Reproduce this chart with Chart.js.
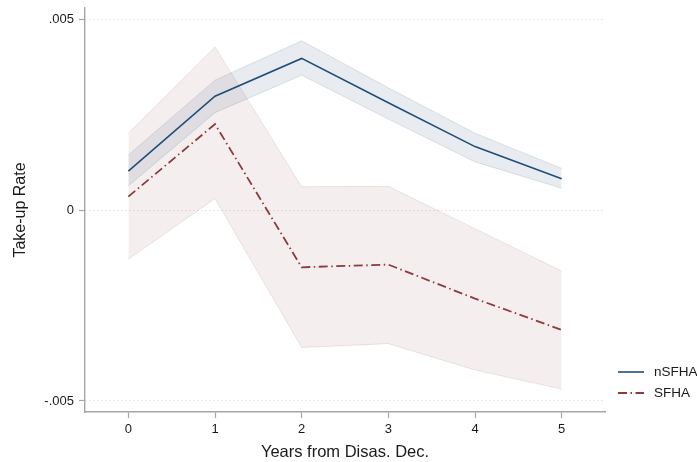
<!DOCTYPE html>
<html>
<head>
<meta charset="utf-8">
<script src="https://cdn.jsdelivr.net/npm/chart.js@4/dist/chart.umd.min.js"></script>
<style>
html,body{margin:0;padding:0;background:#fff;}
#wrap{width:697px;height:462px;}
</style>
</head>
<body>
<div id="wrap"><canvas id="c" width="697" height="462"></canvas></div>
<script>
const years = [0, 1, 2, 3, 4, 5];
const nsfha   = [0.00102, 0.00298, 0.00397, 0.00281, 0.00166, 0.00082];
const nsfhaHi = [0.00144, 0.00340, 0.00443, 0.00320, 0.00201, 0.00109];
const nsfhaLo = [0.00063, 0.00255, 0.00353, 0.00238, 0.00126, 0.00057];
const sfha    = [0.00035, 0.00225, -0.00150, -0.00143, -0.00232, -0.00314];
const sfhaHi  = [0.00201, 0.00427, 0.00061, 0.00062, -0.00049, -0.00160];
const sfhaLo  = [-0.00129, 0.00030, -0.00360, -0.00350, -0.00419, -0.00469];
const yTickValues = [-0.005, 0, 0.005];
const yTickLabels = ['-.005', '0', '.005'];
const seriesNames = ['nSFHA', 'SFHA'];

const FONT = "'Liberation Sans', Arial, Helvetica, sans-serif";
const NAVY = '#1f4e79';
const MAROON = '#8e3a3f';
const SFHA_DASH = [9, 3.5, 1.5, 3.5];

const pts = arr => arr.map((v, i) => ({x: years[i], y: v}));

const legendPlugin = {
  id: 'customLegend',
  afterDraw(chart) {
    const ctx = chart.ctx;
    ctx.save();
    const items = [
      {label: seriesNames[0], color: NAVY, dash: [], width: 1.6, y: 372},
      {label: seriesNames[1], color: MAROON, dash: SFHA_DASH, width: 1.8, y: 393}
    ];
    items.forEach(it => {
      ctx.beginPath();
      ctx.setLineDash(it.dash);
      ctx.strokeStyle = it.color;
      ctx.lineWidth = it.width;
      ctx.moveTo(618, it.y);
      ctx.lineTo(644, it.y);
      ctx.stroke();
      ctx.setLineDash([]);
      ctx.fillStyle = '#1a1a1a';
      ctx.font = '13.5px ' + FONT;
      ctx.textAlign = 'left';
      ctx.textBaseline = 'middle';
      ctx.fillText(it.label, 654, it.y + 0.5);
    });
    ctx.restore();
  }
};

new Chart(document.getElementById('c'), {
  type: 'line',
  data: {
    datasets: [
      {label: 'sfhaHi', data: pts(sfhaHi), borderColor: 'rgba(144,53,59,0.12)', borderWidth: 1, pointRadius: 0, fill: false, order: 4},
      {label: 'sfhaLo', data: pts(sfhaLo), borderColor: 'rgba(144,53,59,0.12)', borderWidth: 1, pointRadius: 0, fill: '-1', backgroundColor: 'rgba(144,53,59,0.085)', order: 3},
      {label: 'nsfhaHi', data: pts(nsfhaHi), borderColor: 'rgba(26,71,111,0.13)', borderWidth: 1, pointRadius: 0, fill: false, order: 2},
      {label: 'nsfhaLo', data: pts(nsfhaLo), borderColor: 'rgba(26,71,111,0.13)', borderWidth: 1, pointRadius: 0, fill: '-1', backgroundColor: 'rgba(26,71,111,0.10)', order: 1},
      {label: seriesNames[1], data: pts(sfha), borderColor: MAROON, borderWidth: 1.8, borderDash: SFHA_DASH, pointRadius: 0, fill: false, order: 0},
      {label: seriesNames[0], data: pts(nsfha), borderColor: NAVY, borderWidth: 1.6, pointRadius: 0, fill: false, order: 0}
    ]
  },
  options: {
    responsive: false,
    animation: false,
    devicePixelRatio: 1,
    layout: {padding: {top: 8, right: 92, left: 0, bottom: 0}},
    elements: {line: {tension: 0}},
    plugins: {legend: {display: false}, tooltip: {enabled: false}},
    scales: {
      x: {
        type: 'linear',
        min: -0.5,
        max: 5.5,
        afterBuildTicks: s => { s.ticks = years.map(v => ({value: v})); },
        afterFit: s => { s.height = 50; s.paddingLeft = 0; s.paddingRight = 0; },
        ticks: {
          color: '#1a1a1a', font: {family: FONT, size: 13}, padding: 4,
          callback: v => String(v)
        },
        grid: {drawOnChartArea: false, drawTicks: true, tickLength: 6, tickColor: '#a6a6a6', tickWidth: 1.2},
        border: {display: true, color: '#a6a6a6', width: 1.4},
        title: {display: true, text: 'Years from Disas. Dec.', color: '#1a1a1a', font: {family: FONT, size: 16.5}, padding: {top: 0, bottom: 0}}
      },
      y: {
        type: 'linear',
        min: -0.00529,
        max: 0.00529,
        afterBuildTicks: s => { s.ticks = yTickValues.map(v => ({value: v})); },
        afterFit: s => { s.width = 85; s.paddingTop = 0; s.paddingBottom = 0; },
        ticks: {
          color: '#1a1a1a', font: {family: FONT, size: 13}, padding: 5,
          callback: (v, i) => yTickLabels[i]
        },
        grid: {drawOnChartArea: true, color: '#d2d2d2', lineWidth: 1, drawTicks: true, tickLength: 6, tickColor: '#a6a6a6', tickWidth: 1.2},
        border: {display: true, color: '#a6a6a6', width: 1.4, dash: [1, 3]},
        title: {display: true, text: 'Take-up Rate', color: '#1a1a1a', font: {family: FONT, size: 16}, padding: {top: 11, bottom: 0}}
      }
    }
  },
  plugins: [legendPlugin]
});
</script>
</body>
</html>
